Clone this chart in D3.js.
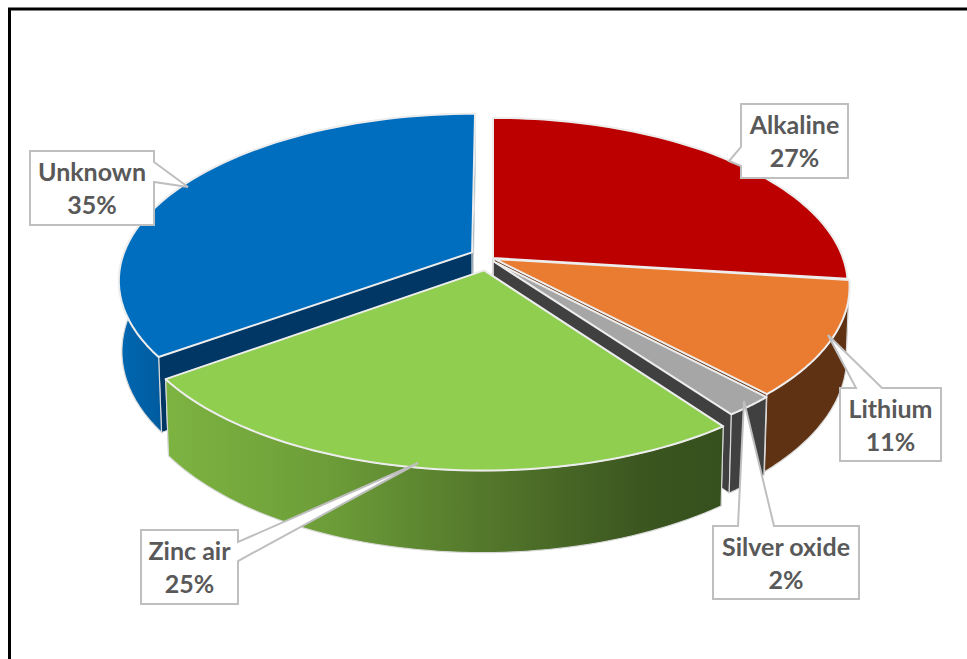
<!DOCTYPE html>
<html lang="en">

<head>
    <meta charset="UTF-8">
    <title>Battery chemistry</title>
    <script src="https://d3js.org/d3.v7.min.js"></script>
    <style>
        html, body { margin: 0; padding: 0; background: #fff; overflow: hidden; }
        svg { display: block; }
        text { font-family: Lato, "Open Sans", sans-serif; font-weight: 700; font-size: 25px; fill: #595959; text-anchor: middle; }
    </style>
</head>

<body>
    <svg id="chart" width="967" height="659"></svg>
    <script>
        const categories = ["Alkaline", "Lithium", "Silver oxide", "Zinc air", "Unknown"];
        const shares = [27, 11, 2, 25, 35];

        const topColors = ["#BC0000", "#EA7C31", "#A6A6A6", "#8FCE4F", "#006EBF"];
        const rimColors = ["#6E0000", "#5F3214", "#404040", "url(#greenRim)", "url(#blueRim)"];
        const cutColors = ["#f2f2f2", "#5F3214", "#404040", "#3a521c", "#003764"];

        // how far each slice is pulled out, in disc units (x, y)
        const explode = [[0, 0], [0.004, 0.006], [0.001, 0.02], [-0.025, 0.075], [-0.06, -0.035]];

        // callout boxes: x0, y0, x1, y1 and the pointer (base, tip, base)
        const callouts = [
            { box: [741, 104, 848, 178], ptr: [[741, 147], [729, 161], [741, 166]], side: "left" },
            { box: [840, 388, 941, 461], ptr: [[856, 388], [828, 335], [882, 388]], side: "top" },
            { box: [713, 526, 859, 599], ptr: [[738, 526], [744, 401], [774, 526]], side: "top" },
            { box: [141, 530, 238, 604], ptr: [[238, 542], [418, 463], [238, 561]], side: "right" },
            { box: [30, 151, 154, 225], ptr: [[154, 162], [188, 187], [154, 182]], side: "right" }
        ];

        // tilted disc with a bit of perspective: the front edge comes out larger
        const cx = 493, cy = 258, rx = 350, ry = 163, persp = 0.1634, depth = 70, shrink = 0.008;

        function project(u, v, bottom) {
            const w = 1 - persp * v + (bottom ? shrink : 0);
            return [cx + rx * u / w, cy + (ry * v + (bottom ? depth : 0)) / w];
        }

        const svg = d3.select("#chart");
        const line = d3.line();
        const closed = pts => line(pts) + "Z";

        const defs = svg.append("defs");
        const gradient = (id, x1, x2, stops) => {
            const g = defs.append("linearGradient").attr("id", id)
                .attr("gradientUnits", "userSpaceOnUse")
                .attr("x1", x1).attr("x2", x2).attr("y1", 0).attr("y2", 0);
            stops.forEach(s => g.append("stop").attr("offset", s[0]).attr("stop-color", s[1]));
        };
        gradient("greenRim", 165, 725, [[0, "#7DB441"], [0.3, "#6C9C38"], [0.55, "#557A2C"], [0.85, "#3C5620"], [1, "#35501D"]]);
        gradient("blueRim", 118, 165, [[0, "#0068B3"], [1, "#005A9C"]]);

        // frame
        svg.append("path").attr("d", "M9.5,659V9H967").attr("fill", "none").attr("stroke", "#000").attr("stroke-width", 3);

        const arcs = d3.pie().sort(null).startAngle(0).endAngle(2 * Math.PI)(shares);
        // paint back to front
        const paintOrder = [4, 0, 1, 2, 3];

        paintOrder.forEach(i => {
            const a = arcs[i];
            const [du, dv] = explode[i];
            const steps = d3.range(0, 61).map(k => a.startAngle + (a.endAngle - a.startAngle) * k / 60);
            const rim = bottom => steps.map(t => project(du + Math.sin(t), dv - Math.cos(t), bottom));
            const apex = bottom => project(du, dv, bottom);
            const g = svg.append("g");

            // cut faces
            [0, 60].forEach(k => {
                g.append("path")
                    .attr("d", closed([apex(false), rim(false)[k], rim(true)[k], apex(true)]))
                    .attr("fill", cutColors[i])
                    .attr("stroke", "#d9d9d9").attr("stroke-width", 1);
            });
            // outer wall
            g.append("path")
                .attr("d", closed(rim(false).concat(rim(true).reverse())))
                .attr("fill", rimColors[i])
                .attr("stroke", "#d9d9d9").attr("stroke-width", 1.2);
            // top face
            g.append("path")
                .attr("d", closed([apex(false)].concat(rim(false))))
                .attr("fill", topColors[i])
                .attr("stroke", "#ededed").attr("stroke-width", 2)
                .attr("stroke-linejoin", "round");
        });

        // callouts with their labels
        callouts.forEach((c, i) => {
            const [x0, y0, x1, y1] = c.box;
            const [p0, tip, p1] = c.ptr;
            let pts;
            if (c.side === "left") pts = [[x0, y0], [x1, y0], [x1, y1], [x0, y1], p1, tip, p0];
            if (c.side === "right") pts = [[x0, y0], [x1, y0], p0, tip, p1, [x1, y1], [x0, y1]];
            if (c.side === "top") pts = [[x0, y0], p0, tip, p1, [x1, y0], [x1, y1], [x0, y1]];
            svg.append("path").attr("d", closed(pts))
                .attr("fill", "#fff").attr("stroke", "#bfbfbf").attr("stroke-width", 2);
            const mx = (x0 + x1) / 2;
            svg.append("text").attr("x", mx).attr("y", y0 + 30).text(categories[i]);
            svg.append("text").attr("x", mx).attr("y", y0 + 63).text(shares[i] + "%");
        });
    </script>
</body>

</html>
